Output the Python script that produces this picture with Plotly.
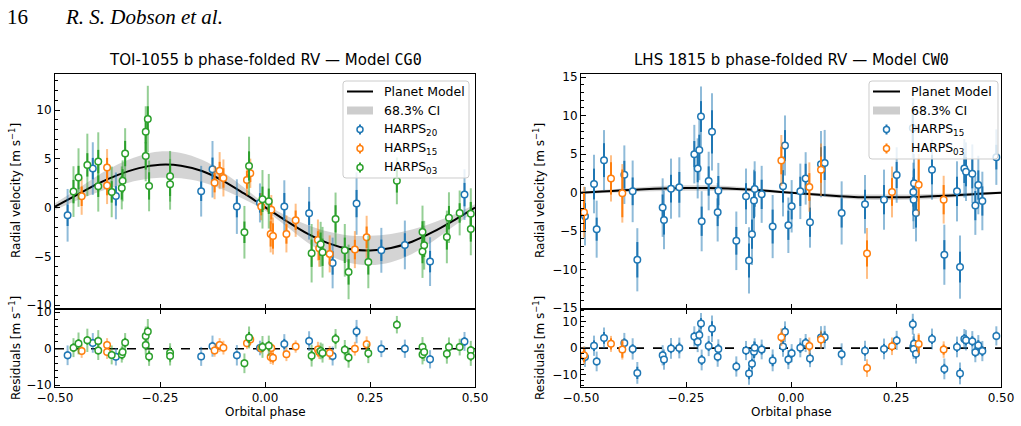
import plotly.graph_objects as go
import numpy as np

W, H = 1021, 426

# ---------------- data: TOI-1055 b ----------------
model_phase = [-0.5, -0.45, -0.4, -0.35, -0.3, -0.25, -0.2, -0.15, -0.1, -0.05, 0.0,
               0.05, 0.1, 0.15, 0.2, 0.25, 0.3, 0.35, 0.4, 0.45, 0.5]
toi_model = [0.1, 1.25, 2.4, 3.35, 4.05, 4.4, 4.3, 3.75, 2.75, 1.45, 0.05,
             -1.35, -2.65, -3.65, -4.25, -4.4, -4.15, -3.5, -2.5, -1.3, 0.0]
toi_ci = [0.35, 0.55, 0.85, 1.1, 1.25, 1.35, 1.3, 1.15, 0.9, 0.6, 0.35,
          0.55, 0.9, 1.2, 1.4, 1.5, 1.45, 1.25, 0.95, 0.6, 0.35]

toi_h20_phase = [-0.470, -0.410, -0.355, -0.152, -0.125, -0.067, -0.012, 0.046, 0.105, 0.161,
                 0.218, 0.277, 0.333, 0.393, 0.475]
toi_h20_rv = [-0.79, 4.0, 1.2, 1.68, 3.93, 0.1, 0.48, 0.1, -0.58, -5.68, 0.41, -4.38, -3.83, -5.54, 1.33]
toi_h20_ein = [1.1, 1.1, 1.0, 1.0, 1.2, 1.1, 1.0, 1.4, 1.2, 1.2, 1.4, 1.1, 1.2, 1.1, 1.2]
toi_h20_eout = [2.7, 2.7, 2.4, 2.6, 2.9, 2.8, 2.0, 2.7, 2.7, 2.6, 3.2, 2.3, 2.5, 2.5, 2.6]
toi_h20_res = [-1.8, 1.6, -2.2, -2.1, 0.7, -1.8, 0.2, 1.3, 2.1, -2.0, 4.7, 0.0, 0.0, -2.9, 2.0]

toi_h15_phase = [-0.4365, -0.376, -0.376, -0.120, -0.108, -0.099, -0.043, -0.035, -0.009, 0.015,
                 0.0135, 0.019, 0.051, 0.073, 0.126, 0.129, 0.154, 0.214, 0.242]
toi_h15_rv = [1.16, 4.1, 2.26, 2.56, 3.79, 3.04, 2.84, 3.52, 0.1, -0.21,
              -2.7, -2.91, -2.7, -1.3, -3.32, -4.17, -4.75, -4.31, -3.04]
toi_h15_ein = [1.0, 1.0, 1.0, 1.0, 0.9, 1.0, 0.9, 0.9, 0.9, 1.0, 1.3, 1.3, 1.0, 1.0, 0.9, 1.2, 1.1, 1.0, 1.1]
toi_h15_eout = [1.9, 1.9, 1.9, 1.7, 1.9, 1.9, 1.6, 1.5, 1.4, 1.5, 1.9, 1.9, 1.9, 1.7, 2.1, 1.9, 1.9, 1.9, 2.2]
toi_h15_res = [-0.6, 1.0, -0.9, -0.5, 1.0, 0.3, 1.5, 2.5, 0.1, 0.2, -2.3, -2.5, -1.5, 0.6, -0.2, -0.9, -1.2, 0.0, 1.2]

toi_h03_phase = [-0.456, -0.444, -0.423, -0.397, -0.397, -0.365, -0.341, -0.339, -0.333, -0.284,
                 -0.284, -0.279, -0.276, -0.226, -0.226, -0.049, -0.038, -0.006, 0.009, 0.111,
                 0.1325, 0.137, 0.168, 0.190, 0.199, 0.246, 0.314, 0.375, 0.375, 0.379,
                 0.433, 0.438, 0.4635, 0.490, 0.490]
toi_h03_rv = [1.64, 3.08, 4.38, 4.72, 2.19, 1.61, 2.02, 2.74, 5.54, 7.79,
              5.3, 9.09, 2.22, 3.21, 2.39, -2.53, 4.27, 0.85, 0.65, -4.68,
              -3.76, -4.58, -1.16, -4.38, -6.6, -5.57, 2.74, -2.5, -4.51, -3.86,
              -3.01, -1.03, -0.55, -0.62, -2.19]
toi_h03_ein = [1.2, 1.2, 1.2, 1.2, 1.1, 1.1, 1.2, 1.2, 1.3, 1.2, 1.4, 1.3, 1.4, 1.2, 1.2,
               1.1, 1.5, 1.3, 1.3, 1.4, 1.2, 1.4, 1.4, 1.3, 1.3, 1.3, 1.2, 1.1, 1.2, 1.2,
               1.3, 1.2, 1.0, 1.2, 1.3]
toi_h03_eout = [2.6, 3.0, 3.2, 3.0, 2.6, 2.6, 2.2, 2.1, 2.6, 2.6, 2.6, 3.4, 2.6, 2.6, 2.6,
                2.7, 3.0, 3.0, 2.8, 3.0, 2.3, 2.6, 2.7, 2.7, 2.8, 2.7, 2.4, 2.7, 2.7, 2.5,
                2.7, 2.6, 2.3, 2.6, 2.7]
toi_h03_res = [0.3, 1.45, 2.3, 2.1, -0.5, -1.7, -1.6, -0.9, 1.7, 3.5, 1.0, 4.75, -2.1, -1.1, -2.0,
               -4.0, 3.1, 0.5, 0.8, -1.9, -0.6, -1.2, 2.7, -0.3, -2.4, -1.25, 6.6, 0.5, -1.6, -0.9,
               -1.4, 0.5, 0.45, -0.45, -2.0]

# ---------------- data: LHS 1815 b ----------------
lhs_model = [0.0, 0.15, 0.3, 0.45, 0.55, 0.6, 0.6, 0.55, 0.4, 0.2, 0.0,
             -0.2, -0.4, -0.55, -0.6, -0.6, -0.55, -0.45, -0.3, -0.15, 0.0]
lhs_ci = [0.15, 0.2, 0.25, 0.3, 0.35, 0.35, 0.35, 0.3, 0.25, 0.2, 0.15,
          0.2, 0.25, 0.3, 0.35, 0.35, 0.35, 0.3, 0.25, 0.2, 0.15]

lhs_h15_phase = [-0.4905, -0.469, -0.4627, -0.4452, -0.3968, -0.377, -0.3659, -0.3056, -0.3024, -0.2857,
                 -0.2659, -0.2302, -0.2222, -0.2183, -0.2143, -0.2127, -0.196, -0.1881, -0.173, -0.1746,
                 -0.1302, -0.1071, -0.1, -0.0929, -0.0881, -0.0865, -0.0698, -0.0437, -0.019, -0.0143,
                 -0.0063, 0.0016, 0.0222, 0.0349, 0.0452, 0.0714, 0.0802, 0.1206, 0.1762, 0.2214,
                 0.2516, 0.29, 0.2913, 0.2929, 0.292, 0.2976, 0.3357, 0.3651, 0.3952, 0.4024,
                 0.4127, 0.4167, 0.4317, 0.4389, 0.446, 0.4556, 0.4889]
lhs_h15_rv = [-3.06, 1.12, -4.74, 4.22, 2.33, 0.17, -8.71, -1.94, -3.54, 0.52,
              0.69, 5.0, 3.15, 5.52, 9.88, -3.71, 1.51, 7.89, 0.26, -2.54,
              -6.25, -0.47, -8.8, -5.39, -1.03, 0.47, -0.22, -4.4, 0.82, 6.12,
              -4.23, -1.77, 0.17, 1.85, -3.84, 3.7, 3.84, -2.63, -1.51, -0.91,
              2.29, 8.4, 0.09, 1.21, -0.91, -2.63, 2.98, -8.06, 0.17, -9.66,
              3.15, 2.72, 2.46, -1.68, 0.99, -1.08, 4.61]
lhs_h15_ein = [1.7, 2.0, 1.5, 2.2, 1.8, 1.8, 2.3, 1.7, 1.9, 1.8,
               2.0, 1.7, 1.8, 2.0, 2.0, 1.9, 1.9, 2.8, 1.9, 1.8,
               1.8, 1.7, 2.2, 1.9, 2.3, 2.3, 1.9, 2.2, 2.1, 2.0,
               1.9, 1.7, 1.9, 1.9, 1.9, 2.2, 2.2, 1.9, 1.9, 1.9,
               1.7, 2.0, 1.9, 1.9, 1.9, 1.9, 1.9, 1.9, 1.9, 2.0,
               1.9, 1.9, 1.9, 1.9, 1.9, 1.9, 1.6]
lhs_h15_eout = [3.8, 3.8, 3.7, 3.9, 3.8, 4.0, 4.1, 3.8, 3.8, 3.9,
                3.9, 3.8, 3.9, 3.9, 3.9, 3.9, 3.8, 5.0, 3.6, 3.8,
                3.8, 3.6, 4.3, 4.0, 4.0, 3.6, 3.7, 4.1, 3.9, 3.9,
                3.6, 3.4, 3.6, 3.4, 3.3, 4.3, 4.3, 4.1, 3.8, 3.9,
                3.6, 3.9, 3.8, 3.8, 3.8, 3.7, 3.9, 3.9, 3.9, 4.1,
                3.8, 3.8, 3.8, 3.8, 3.8, 3.8, 3.6]
lhs_h15_res = [-3.3, 0.9, -5.0, 3.85, 1.92, -0.3, -9.3, -2.7, -4.3, -0.1,
               0.05, 4.4, 2.4, 4.9, 9.3, -4.45, 0.8, 7.3, -0.3, -3.2,
               -6.9, -0.9, -9.5, -5.9, -1.4, 0.1, -0.5, -4.6, 0.64, 6.15,
               -4.3, -1.9, 0.15, 1.92, -3.85, 3.95, 4.1, -2.3, -1.0, -0.3,
               2.9, 9.0, 0.66, 1.6, -0.3, -2.1, 3.45, -7.8, 0.45, -9.5,
               3.4, 2.95, 2.6, -1.5, 1.1, -1.1, 4.6]

lhs_h03_phase = [-0.4929, -0.4286, -0.4016, -0.023, 0.0437, 0.0714, 0.181, 0.2405, 0.304, 0.3635]
lhs_h03_rv = [-2.54, 1.85, -0.09, 4.18, 0.73, 2.98, -7.89, 0.09, 1.03, -0.91]
lhs_h03_ein = [2.5, 2.1, 3.1, 1.8, 1.8, 1.7, 1.7, 1.8, 3.4, 1.9]
lhs_h03_eout = [3.3, 3.0, 3.8, 3.3, 3.2, 3.4, 3.3, 3.3, 4.0, 3.1]
lhs_h03_res = [-2.7, 1.6, -0.5, 4.1, 0.8, 3.2, -7.5, 0.69, 1.58, -0.55]

x_ticks = [-0.5, -0.25, 0.0, 0.25, 0.5]
x_ticktext = ["\u22120.50", "\u22120.25", "0.00", "0.25", "0.50"]

# ---------------- styling ----------------
BLUE, ORANGE, GREEN = (31, 119, 180), (255, 127, 14), (44, 160, 44)
FONT = "DejaVu Sans"


def rgba(c, a):
    return "rgba(%d,%d,%d,%s)" % (c[0], c[1], c[2], a)


def px(x, y):
    return x / W, 1 - y / H


fig = go.Figure()


def add_band(ph, mod, ci, xa, ya):
    m = np.array(mod)
    c = np.array(ci)
    fig.add_trace(go.Scatter(x=ph, y=m - c, mode="lines", line=dict(width=0, shape="spline"),
                             xaxis=xa, yaxis=ya, showlegend=False, hoverinfo="skip"))
    fig.add_trace(go.Scatter(x=ph, y=m + c, mode="lines", line=dict(width=0, shape="spline"),
                             fill="tonexty", fillcolor="rgba(205,205,205,0.85)",
                             xaxis=xa, yaxis=ya, showlegend=False, hoverinfo="skip"))
    fig.add_trace(go.Scatter(x=ph, y=mod, mode="lines", line=dict(color="black", width=2, shape="spline"),
                             xaxis=xa, yaxis=ya, showlegend=False))


def add_series(ph, v, ei, eo, col, xa, ya):
    fig.add_trace(go.Scatter(x=ph, y=v, mode="markers", marker=dict(size=1, color="rgba(0,0,0,0)"),
                             error_y=dict(type="data", array=eo, color=rgba(col, 0.5), thickness=2, width=0),
                             xaxis=xa, yaxis=ya, showlegend=False, hoverinfo="skip"))
    fig.add_trace(go.Scatter(x=ph, y=v, mode="markers", marker=dict(size=1, color="rgba(0,0,0,0)"),
                             error_y=dict(type="data", array=ei, color=rgba(col, 1), thickness=2, width=0),
                             xaxis=xa, yaxis=ya, showlegend=False, hoverinfo="skip"))
    fig.add_trace(go.Scatter(x=ph, y=v, mode="markers",
                             marker=dict(symbol="circle", size=6.5, color="white",
                                         line=dict(color=rgba(col, 1), width=1.5)),
                             xaxis=xa, yaxis=ya, showlegend=False))


def add_zero(xa, ya):
    fig.add_trace(go.Scatter(x=[-0.5, 0.5], y=[0, 0], mode="lines",
                             line=dict(color="black", width=1.6, dash="dash"),
                             xaxis=xa, yaxis=ya, showlegend=False, hoverinfo="skip"))


# left panel
add_band(model_phase, toi_model, toi_ci, "x", "y")
add_series(toi_h20_phase, toi_h20_rv, toi_h20_ein, toi_h20_eout, BLUE, "x", "y")
add_series(toi_h15_phase, toi_h15_rv, toi_h15_ein, toi_h15_eout, ORANGE, "x", "y")
add_series(toi_h03_phase, toi_h03_rv, toi_h03_ein, toi_h03_eout, GREEN, "x", "y")
add_zero("x2", "y2")
add_series(toi_h20_phase, toi_h20_res, toi_h20_ein, toi_h20_eout, BLUE, "x2", "y2")
add_series(toi_h15_phase, toi_h15_res, toi_h15_ein, toi_h15_eout, ORANGE, "x2", "y2")
add_series(toi_h03_phase, toi_h03_res, toi_h03_ein, toi_h03_eout, GREEN, "x2", "y2")

# right panel
add_band(model_phase, lhs_model, lhs_ci, "x3", "y3")
add_series(lhs_h15_phase, lhs_h15_rv, lhs_h15_ein, lhs_h15_eout, BLUE, "x3", "y3")
add_series(lhs_h03_phase, lhs_h03_rv, lhs_h03_ein, lhs_h03_eout, ORANGE, "x3", "y3")
add_zero("x4", "y4")
add_series(lhs_h15_phase, lhs_h15_res, lhs_h15_ein, lhs_h15_eout, BLUE, "x4", "y4")
add_series(lhs_h03_phase, lhs_h03_res, lhs_h03_ein, lhs_h03_eout, ORANGE, "x4", "y4")

# ---------------- axes ----------------
LX = [55 / W, 475 / W]
RX = [581 / W, 1001 / W]
MAINY = [1 - 309 / H, 1 - 74 / H]
RESY = [1 - 387 / H, 1 - 309 / H]

tickfont = dict(family=FONT, size=12, color="black")


def xax(domain, anchor, labels, mirror):
    return dict(domain=domain, anchor=anchor, range=[-0.5, 0.5], tickmode="array", tickvals=x_ticks,
                ticktext=x_ticktext, automargin=False,
                showticklabels=labels, ticks="inside", ticklen=5, tickwidth=1, tickcolor="black",
                showline=True, linecolor="black", linewidth=1, mirror=mirror,
                showgrid=False, zeroline=False, tickfont=tickfont)


def yax(domain, anchor, rng, dtick, minor):
    return dict(domain=domain, anchor=anchor, range=rng, tickmode="linear", tick0=0, dtick=dtick,
                automargin=False,
                ticks="inside", ticklen=5, tickwidth=1, tickcolor="black",
                minor=dict(dtick=minor, tick0=0, ticks="inside", ticklen=2.5, tickcolor="black", tickwidth=1),
                showline=True, linecolor="black", linewidth=1, mirror=True,
                showgrid=False, zeroline=False, tickfont=tickfont)


layout = dict(
    template="none",
    width=W, height=H, margin=dict(l=0, r=0, t=0, b=0, pad=0, autoexpand=False),
    paper_bgcolor="white", plot_bgcolor="white",
    showlegend=False,
    font=dict(family=FONT, size=12, color="black"),
    xaxis=xax(LX, "y", False, True),
    yaxis=yax(MAINY, "x", [-10.4, 13.7], 5, 1),
    xaxis2=xax(LX, "y2", True, "ticks"),
    yaxis2=yax(RESY, "x2", [-10.5, 10.9], 10, 2),
    xaxis3=xax(RX, "y3", False, True),
    yaxis3=yax(MAINY, "x3", [-15.1, 15.4], 5, 1),
    xaxis4=xax(RX, "y4", True, "ticks"),
    yaxis4=yax(RESY, "x4", [-14.6, 14.7], 10, 2),
)
fig.update_layout(**layout)

# ---------------- annotations ----------------
ann = []


def text(x, y, s, size=12, xanchor="center", yanchor="middle", angle=0, family=FONT):
    X, Y = px(x, y)
    ann.append(dict(x=X, y=Y, xref="paper", yref="paper", text=s, showarrow=False,
                    xanchor=xanchor, yanchor=yanchor, textangle=angle,
                    font=dict(family=family, size=size, color="black")))


text(5, 17, "16", size=21, xanchor="left", family="Liberation Serif")
text(63, 17, "<i>R. S. Dobson et al.</i>", size=21, xanchor="left", family="Liberation Serif")
text(265, 60, 'TOI-1055 b phase-folded RV \u2014 Model <span style="font-family:DejaVu Sans Mono">CG0</span>', size=15)
text(791, 60, 'LHS 1815 b phase-folded RV \u2014 Model <span style="font-family:DejaVu Sans Mono">CW0</span>', size=15)
text(265, 412, "Orbital phase", size=12)
text(791, 412, "Orbital phase", size=12)
text(15, 191, "Radial velocity [m s<sup>\u22121</sup>]", size=12, angle=-90)
text(15, 348, "Residuals [m s<sup>\u22121</sup>]", size=12, angle=-90)
text(539, 191, "Radial velocity [m s<sup>\u22121</sup>]", size=12, angle=-90)
text(539, 348, "Residuals [m s<sup>\u22121</sup>]", size=12, angle=-90)

# ---------------- manual legends ----------------
shapes = []


def rrect(x0, y0, x1, y1, r, fill, line):
    # rounded rectangle as an SVG path in paper coordinates
    def p(x, y):
        X, Y = px(x, y)
        return "%.6f,%.6f" % (X, Y)
    path = ("M " + p(x0 + r, y0) + " L " + p(x1 - r, y0) + " Q " + p(x1, y0) + " " + p(x1, y0 + r) +
            " L " + p(x1, y1 - r) + " Q " + p(x1, y1) + " " + p(x1 - r, y1) +
            " L " + p(x0 + r, y1) + " Q " + p(x0, y1) + " " + p(x0, y1 - r) +
            " L " + p(x0, y0 + r) + " Q " + p(x0, y0) + " " + p(x0 + r, y0) + " Z")
    shapes.append(dict(type="path", xref="paper", yref="paper", path=path,
                       fillcolor=fill, line=dict(color=line, width=1), layer="above"))


def rect(x0, y0, x1, y1, fill):
    a, b = px(x0, y0)
    c, d = px(x1, y1)
    shapes.append(dict(type="rect", xref="paper", yref="paper", x0=a, y0=d, x1=c, y1=b,
                       fillcolor=fill, line=dict(width=0), layer="above"))


def seg(x0, y0, x1, y1, color, lw):
    a, b = px(x0, y0)
    c, d = px(x1, y1)
    shapes.append(dict(type="line", xref="paper", yref="paper", x0=a, y0=b, x1=c, y1=d,
                       line=dict(color=color, width=lw), layer="above"))


def circ(cx, cy, r, color):
    a, b = px(cx - r, cy + r)
    c, d = px(cx + r, cy - r)
    shapes.append(dict(type="circle", xref="paper", yref="paper", x0=a, y0=b, x1=c, y1=d,
                       fillcolor="white", line=dict(color=color, width=1.5), layer="above"))


def legend(box, hx0, hx1, tx, rows, entries):
    rrect(box[0], box[1], box[2], box[3], 3, "rgba(255,255,255,0.8)", "#cccccc")
    for y, (kind, label, col) in zip(rows, entries):
        if kind == "line":
            seg(hx0, y, hx1, y, "black", 2)
        elif kind == "band":
            rect(hx0, y - 4, hx1, y + 4, "rgba(205,205,205,1)")
        else:
            cx = (hx0 + hx1) / 2
            seg(cx, y - 5, cx, y + 5, rgba(col, 1), 2)
            circ(cx, y, 3, rgba(col, 1))
        text(tx, y, label, size=12.5, xanchor="left")


legend((343, 81, 469, 178), 347, 373, 382, [91.5, 110.5, 129.5, 148.5, 167.5],
       [("line", "Planet Model", None), ("band", "68.3% CI", None),
        ("err", "HARPS<sub>20</sub>", BLUE), ("err", "HARPS<sub>15</sub>", ORANGE),
        ("err", "HARPS<sub>03</sub>", GREEN)])
legend((869, 81, 998, 159), 873, 900, 909, [91.5, 110.5, 129.5, 148.5],
       [("line", "Planet Model", None), ("band", "68.3% CI", None),
        ("err", "HARPS<sub>15</sub>", BLUE), ("err", "HARPS<sub>03</sub>", ORANGE)])

fig.update_layout(annotations=ann, shapes=shapes)
fig.write_html("out.html")
